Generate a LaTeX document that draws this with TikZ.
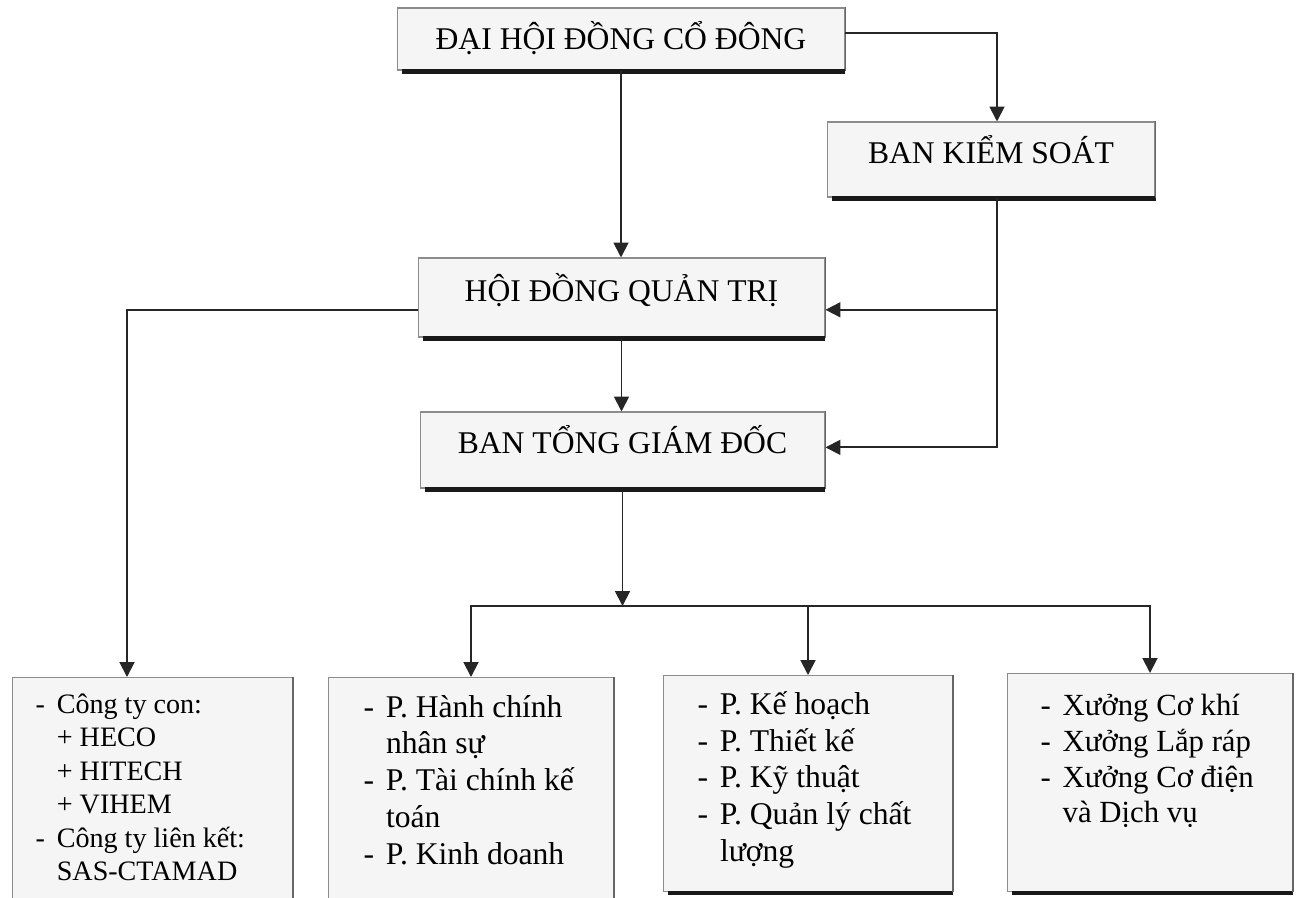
\documentclass[tikz,border=0pt]{standalone}
\usepackage{fontspec}
\setmainfont{Liberation Serif}
\usetikzlibrary{arrows.meta,calc}
\newcommand\boxlist[7]{\parbox[c][#2][t]{#1}{\fontsize{#5}{#6}\selectfont\vspace*{#3}\hspace*{#4}\begin{tabular}[t]{@{}l@{\hspace{6.8pt}}l@{}}#7\end{tabular}}}
\begin{document}
\begin{tikzpicture}[x=0.02cm,y=-0.02cm,
  boxbase/.style={draw=black!45, line width=0.6pt, fill=black!4, inner sep=0pt},
  titlebox/.style={boxbase, font=\fontsize{18}{20}\selectfont, text height=12pt, text depth=8pt},
  lowbox/.style={boxbase, anchor=north west},
  conn/.style={draw=black!85, line width=1.1pt, -{Triangle[length=8.5pt,width=8.5pt]}},
  shadowrule/.style={draw=black!90, line width=2.4pt},
  siderule/.style={draw=black!60, line width=1pt}]
\useasboundingbox (0,0) rectangle (1299,897);
\fill[white] (0,0) rectangle (1299,897);

% title boxes
\node[titlebox, minimum width=8.96cm, minimum height=1.24cm, text depth=0pt] (b1) at (621,39) {ĐẠI HỘI ĐỒNG CỔ ĐÔNG};
\node[titlebox, minimum width=6.56cm, minimum height=1.5cm] (b2) at (991,159.5) {BAN KIỂM SOÁT};
\node[titlebox, minimum width=8.14cm, minimum height=1.58cm] (b3) at (621.5,297.5) {HỘI ĐỒNG QUẢN TRỊ};
\node[titlebox, minimum width=8.1cm, minimum height=1.52cm] (b4) at (622.5,450) {BAN TỔNG GIÁM ĐỐC};

% lower boxes
\node[lowbox] (bA) at (12,677) {\boxlist{5.6cm}{4.52cm}{7.2pt}{0.46cm}{16}{19}{%
- & Công ty con:\\
  & + HECO\\
  & + HITECH\\
  & + VIHEM\\
- & Công ty liên kết:\\
  & SAS-CTAMAD}};
\node[lowbox] (bB) at (328,677) {\boxlist{5.7cm}{4.52cm}{7.8pt}{0.7cm}{18}{21}{%
- & P. Hành chính\\
  & nhân sự\\
- & P. Tài chính kế\\
  & toán\\
- & P. Kinh doanh}};
\node[lowbox] (bC) at (663,675) {\boxlist{5.78cm}{4.32cm}{7.3pt}{0.68cm}{18}{21}{%
- & P. Kế hoạch\\
- & P. Thiết kế\\
- & P. Kỹ thuật\\
- & P. Quản lý chất\\
  & lượng}};
\node[lowbox] (bD) at (1007,673) {\boxlist{5.7cm}{4.36cm}{9.8pt}{0.66cm}{17.5}{20.3}{%
- & Xưởng Cơ khí\\
- & Xưởng Lắp ráp\\
- & Xưởng Cơ điện\\
  & và Dịch vụ}};

% shadow edges
\foreach \n in {b1,b2,b3,b4,bA,bB,bC,bD}{
  \draw[shadowrule] ([xshift=3pt,yshift=-0.6pt]\n.south west) -- ([yshift=-0.6pt]\n.south east);
  \draw[siderule] (\n.north east) -- (\n.south east);
}

% connectors
\coordinate (k1) at (997,0);
\coordinate (ka) at (127,0);
\coordinate (bus) at (623,606);
\coordinate (h3) at ([yshift=-7pt]b3.east);
\coordinate (h3w) at ([yshift=-7pt]b3.west);
\coordinate (h4) at ([yshift=1.5pt]b4.east);

\draw[conn] ([yshift=3.4pt]b1.east) -| (k1 |- b2.north);
\draw[conn] (b1.south) -- (b1.south |- b3.north);
\draw[conn] (b3.south) -- (b3.south |- b4.north);
\draw[conn] (k1 |- b2.south) |- (h4);
\draw[conn] (k1 |- h3) -- (h3);
\draw[conn] (h3w) -| (ka |- bA.north);
\draw[conn] (b4.south) -- (b4.south |- bus);
\draw[conn] (b4.south |- bus) -| (bB.north);
\draw[conn] (b4.south |- bus) -| (bD.north);
\draw[conn] (bC.north |- bus) -- (bC.north);
\end{tikzpicture}
\end{document}
